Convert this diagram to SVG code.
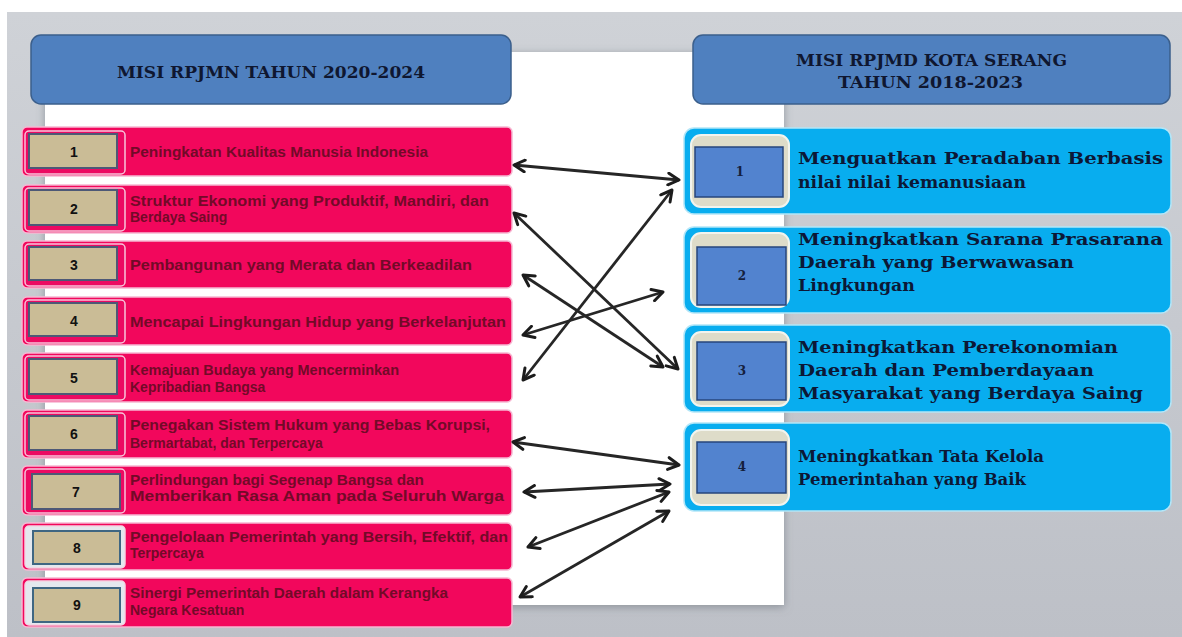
<svg xmlns="http://www.w3.org/2000/svg" width="1182" height="637" viewBox="0 0 1182 637">
<defs>
<linearGradient id="bg" x1="0" y1="0" x2="0" y2="1"><stop offset="0" stop-color="#cfd2d7"/><stop offset="1" stop-color="#bdc0c7"/></linearGradient>
<filter id="sh" x="-5%" y="-5%" width="110%" height="110%"><feDropShadow dx="0" dy="2" stdDeviation="4" flood-color="#6d727a" flood-opacity="0.6"/></filter>
<marker id="ah" viewBox="0 0 14 14" refX="12" refY="7" markerWidth="15" markerHeight="15" markerUnits="userSpaceOnUse" orient="auto-start-reverse"><path d="M2,1.5 L12,7 L2,12.5" fill="none" stroke="#1c1c1c" stroke-width="2.8" stroke-linecap="round" stroke-linejoin="round"/></marker>
<style>
.hdr{fill:#4f80bf;stroke:#3b5f8c;stroke-width:1.5}
.ht{font-family:"DejaVu Serif","Liberation Serif",serif;font-weight:bold;font-size:17px;fill:#0f1730}
.row{fill:#f2075c;stroke:#f6b8d2;stroke-width:1.5}
.frm{fill:#ec0a62;stroke:#f7c4da;stroke-width:1.5}
.tan{fill:#cabc96;stroke:#4d5876;stroke-width:2}
.num{font-family:"Liberation Sans",Arial,sans-serif;font-weight:bold;font-size:14px;fill:#111;text-anchor:middle}
.lt{font-family:"Liberation Sans",Arial,sans-serif;font-weight:bold;font-size:14px;fill:#720a28}
.rbox{fill:#08adef;stroke:#b3e6f8;stroke-width:1.5}
.ifr{fill:#dedcc9;stroke:#f2f4ee;stroke-width:2}
.blu{fill:#5283cf;stroke:#27467c;stroke-width:1.5}
.rn{font-family:"DejaVu Serif","Liberation Serif",serif;font-weight:bold;font-size:12px;fill:#15203d;text-anchor:middle}
.rt{font-family:"DejaVu Serif","Liberation Serif",serif;font-weight:bold;font-size:16.5px;fill:#0c1836}
.ar{fill:none;stroke:#262626;stroke-width:2.8;marker-start:url(#ah);marker-end:url(#ah)}
</style>
</defs>
<rect x="0" y="0" width="1182" height="637" fill="#ffffff"/>
<rect x="7" y="12" width="1175" height="625" fill="url(#bg)"/>
<rect x="45" y="52" width="739" height="553" fill="#ffffff" filter="url(#sh)"/>

<g id="hdr-left">
<rect class="hdr" x="31" y="35" width="480" height="69" rx="10"/>
<text class="ht" x="117" y="78" textLength="308" lengthAdjust="spacingAndGlyphs">MISI RPJMN TAHUN 2020-2024</text>
</g>
<g id="hdr-right">
<rect class="hdr" x="693" y="35" width="477" height="69" rx="10"/>
<text class="ht" x="796" y="66" textLength="271" lengthAdjust="spacingAndGlyphs">MISI RPJMD KOTA SERANG</text>
<text class="ht" x="838" y="88" textLength="185" lengthAdjust="spacingAndGlyphs">TAHUN 2018-2023</text>
</g>

<g id="rpjmn-1">
<rect class="row" x="22" y="127" width="490" height="49" rx="5"/>
<rect class="frm" x="25" y="131" width="100" height="43" rx="4"/>
<rect class="tan" x="29" y="134" width="88" height="34"/>
<text class="num" x="74" y="157">1</text>
<text class="lt" x="130" y="157" textLength="298" lengthAdjust="spacingAndGlyphs">Peningkatan Kualitas Manusia Indonesia</text>
</g>
<g id="rpjmn-2">
<rect class="row" x="22" y="185" width="490" height="48" rx="5"/>
<rect class="frm" x="25" y="188" width="100" height="43" rx="4"/>
<rect class="tan" x="29" y="190" width="88" height="35"/>
<text class="num" x="74" y="214">2</text>
<text class="lt" x="130" y="206" textLength="359" lengthAdjust="spacingAndGlyphs">Struktur Ekonomi yang Produktif, Mandiri, dan</text>
<text class="lt" x="130" y="222">Berdaya Saing</text>
</g>
<g id="rpjmn-3">
<rect class="row" x="22" y="241" width="490" height="47" rx="5"/>
<rect class="frm" x="25" y="244" width="100" height="42" rx="4"/>
<rect class="tan" x="29" y="247" width="88" height="33"/>
<text class="num" x="74" y="270">3</text>
<text class="lt" x="130" y="270" textLength="342" lengthAdjust="spacingAndGlyphs">Pembangunan yang Merata dan Berkeadilan</text>
</g>
<g id="rpjmn-4">
<rect class="row" x="22" y="297" width="490" height="48" rx="5"/>
<rect class="frm" x="25" y="300" width="100" height="43" rx="4"/>
<rect class="tan" x="29" y="303" width="88" height="33"/>
<text class="num" x="74" y="326">4</text>
<text class="lt" x="130" y="327" textLength="376" lengthAdjust="spacingAndGlyphs">Mencapai Lingkungan Hidup yang Berkelanjutan</text>
</g>
<g id="rpjmn-5">
<rect class="row" x="22" y="353" width="490" height="49" rx="5"/>
<rect class="frm" x="25" y="356" width="100" height="44" rx="4"/>
<rect class="tan" x="29" y="359" width="88" height="35"/>
<text class="num" x="74" y="383">5</text>
<text class="lt" x="130" y="375" textLength="269" lengthAdjust="spacingAndGlyphs">Kemajuan Budaya yang Mencerminkan</text>
<text class="lt" x="130" y="392">Kepribadian Bangsa</text>
</g>
<g id="rpjmn-6">
<rect class="row" x="22" y="410" width="490" height="48" rx="5"/>
<rect class="frm" x="25" y="413" width="100" height="43" rx="4"/>
<rect class="tan" x="29" y="416" width="88" height="34"/>
<text class="num" x="74" y="439">6</text>
<text class="lt" x="130" y="430" textLength="360" lengthAdjust="spacingAndGlyphs">Penegakan Sistem Hukum yang Bebas Korupsi,</text>
<text class="lt" x="130" y="448">Bermartabat, dan Terpercaya</text>
</g>
<g id="rpjmn-7">
<rect class="row" x="22" y="466" width="490" height="49" rx="5"/>
<rect class="frm" x="25" y="469" width="100" height="44" rx="4"/>
<rect class="tan" x="32" y="474" width="88" height="35"/>
<text class="num" x="76" y="497">7</text>
<text class="lt" x="130" y="485" textLength="294" lengthAdjust="spacingAndGlyphs">Perlindungan bagi Segenap Bangsa dan</text>
<text class="lt" x="130" y="501" textLength="374" lengthAdjust="spacingAndGlyphs">Memberikan Rasa Aman pada Seluruh Warga</text>
</g>
<g id="rpjmn-8">
<rect class="row" x="22" y="523" width="490" height="47" rx="5"/>
<rect class="frm" x="25" y="526" width="100" height="42" rx="4" style="fill:#e4e8ee;stroke:#f3d4e2"/>
<rect class="tan" x="33" y="531" width="87" height="33" style="stroke:#3f6682"/>
<text class="num" x="77" y="553">8</text>
<text class="lt" x="130" y="542" textLength="378" lengthAdjust="spacingAndGlyphs">Pengelolaan Pemerintah yang Bersih, Efektif, dan</text>
<text class="lt" x="130" y="558">Terpercaya</text>
</g>
<g id="rpjmn-9">
<rect class="row" x="22" y="578" width="490" height="49" rx="5"/>
<rect class="frm" x="25" y="581" width="100" height="44" rx="4" style="fill:#e4e8ee;stroke:#f3d4e2"/>
<rect class="tan" x="33" y="588" width="87" height="34" style="stroke:#3f6682"/>
<text class="num" x="77" y="610">9</text>
<text class="lt" x="130" y="598" textLength="318" lengthAdjust="spacingAndGlyphs">Sinergi Pemerintah Daerah dalam Kerangka</text>
<text class="lt" x="130" y="615">Negara Kesatuan</text>
</g>

<g id="rpjmd-1">
<rect class="rbox" x="684" y="128" width="487" height="86" rx="10"/>
<rect class="ifr" x="691" y="135" width="98" height="72" rx="10"/>
<rect class="blu" x="695" y="147" width="88" height="50"/>
<text class="rn" x="740" y="176">1</text>
<text class="rt" x="798" y="164" textLength="365" lengthAdjust="spacingAndGlyphs">Menguatkan Peradaban Berbasis</text>
<text class="rt" x="798" y="188" textLength="228" lengthAdjust="spacingAndGlyphs">nilai nilai kemanusiaan</text>
</g>
<g id="rpjmd-2">
<rect class="rbox" x="684" y="227" width="487" height="86" rx="10"/>
<rect class="ifr" x="691" y="233" width="98" height="74" rx="10"/>
<rect class="blu" x="697" y="247" width="89" height="58"/>
<text class="rn" x="742" y="280">2</text>
<text class="rt" x="798" y="245" textLength="365" lengthAdjust="spacingAndGlyphs">Meningkatkan Sarana Prasarana</text>
<text class="rt" x="798" y="268" textLength="276" lengthAdjust="spacingAndGlyphs">Daerah yang Berwawasan</text>
<text class="rt" x="798" y="291" textLength="117" lengthAdjust="spacingAndGlyphs">Lingkungan</text>
</g>
<g id="rpjmd-3">
<rect class="rbox" x="684" y="325" width="487" height="87" rx="10"/>
<rect class="ifr" x="691" y="332" width="98" height="74" rx="10"/>
<rect class="blu" x="697" y="342" width="89" height="58"/>
<text class="rn" x="742" y="375">3</text>
<text class="rt" x="798" y="353" textLength="320" lengthAdjust="spacingAndGlyphs">Meningkatkan Perekonomian</text>
<text class="rt" x="798" y="376" textLength="296" lengthAdjust="spacingAndGlyphs">Daerah dan Pemberdayaan</text>
<text class="rt" x="798" y="399" textLength="345" lengthAdjust="spacingAndGlyphs">Masyarakat yang Berdaya Saing</text>
</g>
<g id="rpjmd-4">
<rect class="rbox" x="684" y="423" width="487" height="88" rx="10"/>
<rect class="ifr" x="691" y="430" width="98" height="75" rx="10"/>
<rect class="blu" x="697" y="442" width="89" height="51"/>
<text class="rn" x="742" y="471">4</text>
<text class="rt" x="798" y="462" textLength="246" lengthAdjust="spacingAndGlyphs">Meningkatkan Tata Kelola</text>
<text class="rt" x="798" y="485" textLength="228" lengthAdjust="spacingAndGlyphs">Pemerintahan yang Baik</text>
</g>

<g id="connectors">
<line class="ar" x1="514" y1="165" x2="679" y2="180"/>
<line class="ar" x1="514" y1="213" x2="678" y2="369"/>
<line class="ar" x1="523" y1="275" x2="663" y2="367"/>
<line class="ar" x1="523" y1="335" x2="663" y2="292"/>
<line class="ar" x1="523" y1="380" x2="672" y2="190"/>
<line class="ar" x1="513" y1="442" x2="679" y2="465"/>
<line class="ar" x1="524" y1="492" x2="670" y2="484"/>
<line class="ar" x1="528" y1="547" x2="669" y2="492"/>
<line class="ar" x1="520" y1="597" x2="669" y2="511"/>
</g>
</svg>
